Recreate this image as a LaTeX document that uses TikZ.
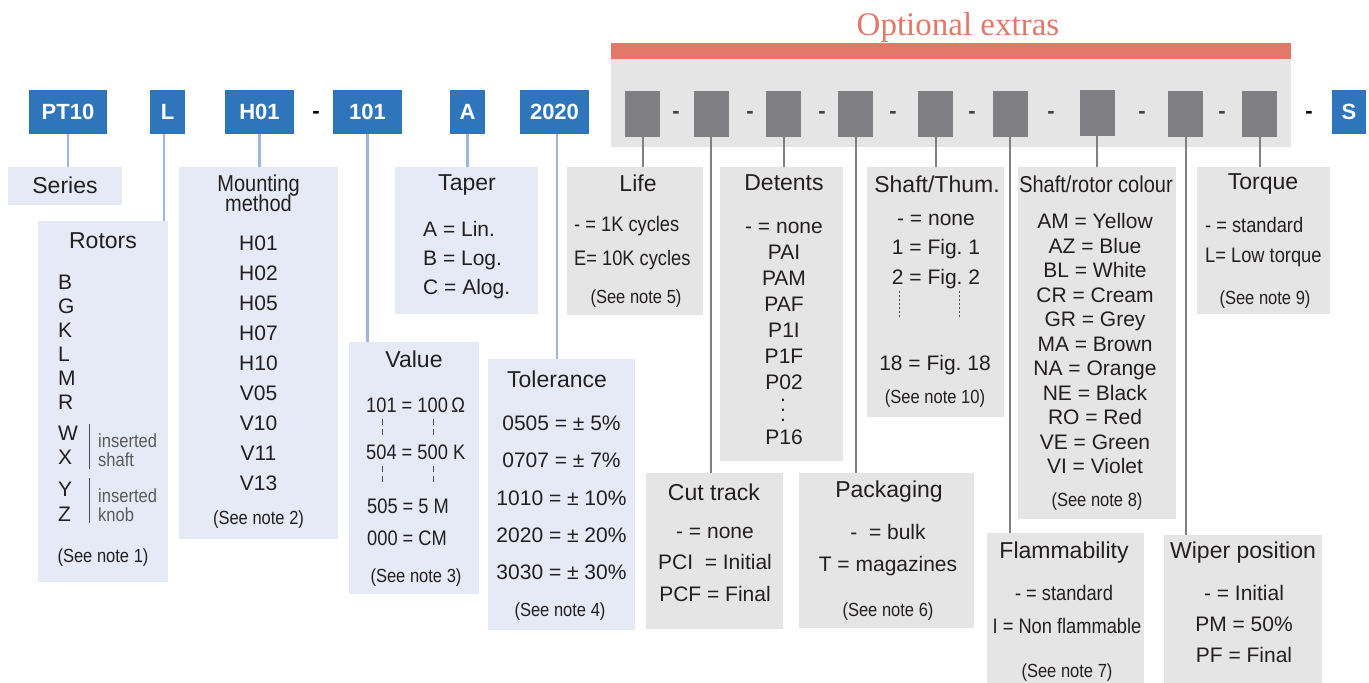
\documentclass[tikz,border=0pt]{standalone}
\usepackage{fontspec}
\setmainfont{Liberation Sans}
\newfontfamily\narrowfont[FakeStretch=0.87]{Liberation Sans}
\newfontfamily\serffont{Liberation Serif}
\usepackage{xcolor}
\usepackage{tikz}
\usetikzlibrary{calc}
\usetikzlibrary{positioning}
\frenchspacing

\definecolor{codeblue}{HTML}{2E75BC}
\definecolor{descblue}{HTML}{E6EAF6}
\definecolor{descgrey}{HTML}{E5E5E5}
\definecolor{optgrey}{HTML}{808084}
\definecolor{bandgrey}{HTML}{E5E5E5}
\definecolor{salmon}{HTML}{E37868}
\definecolor{wireblue}{HTML}{9DB5DF}
\definecolor{wiregrey}{HTML}{808080}
\definecolor{ink}{HTML}{231F20}

\newcommand{\codefont}{\bfseries\fontsize{22}{22}\selectfont}
\newcommand{\ttlfont}{\fontsize{23}{23}\selectfont}
\newcommand{\rowfont}{\fontsize{21}{24}\selectfont}
\newcommand{\rowcfont}{\narrowfont\fontsize{21}{24}\selectfont}
\newcommand{\notefont}{\narrowfont\fontsize{19}{19}\selectfont}

\tikzstyle{codebox} = [fill=codeblue, text=white, inner sep=0, minimum height=44pt, font=\codefont]
\tikzstyle{optbox} = [fill=optgrey, inner sep=0, minimum width=35pt, minimum height=46pt]
\tikzstyle{descb} = [fill=descblue, inner sep=0]
\tikzstyle{descg} = [fill=descgrey, inner sep=0]
\tikzstyle{hyph} = [inner sep=0, font=\codefont]
\tikzstyle{titletext} = [inner sep=0, text=ink, font=\ttlfont]
\tikzstyle{rowtext} = [inner sep=0, text=ink, font=\rowfont]
\tikzstyle{rowctext} = [inner sep=0, text=ink, font=\rowcfont]
\tikzstyle{notetext} = [inner sep=0, text=ink, font=\notefont]
\tikzstyle{sidetext} = [inner sep=0, text=black!65, font=\narrowfont\fontsize{19}{19}\selectfont]
\tikzstyle{wireb} = [-, line width=2.5pt, draw=wireblue]
\tikzstyle{wireg} = [-, line width=2pt, draw=wiregrey]
\tikzstyle{tick} = [-, line width=0.8pt, draw=black!70]

\begin{document}
\begin{tikzpicture}[x=1pt, y=-1pt]
\useasboundingbox (0,0) rectangle (1369,683);
% optional extras band
\node [fill=salmon, inner sep=0, minimum width=680pt, minimum height=16pt] (Bar) at (951, 51) {};
\node [fill=bandgrey, inner sep=0, minimum width=680pt, minimum height=88pt] (Ext) at (951, 103) {};
\node [inner sep=0, anchor=base, text=salmon, font=\serffont\fontsize{33}{33}\selectfont] (Ext-t) at (958, 35) {Optional extras};

% code row
\node [codebox, minimum width=78pt] (PT) at (68, 112) {PT10};
\node [codebox, minimum width=35pt] (L) at (167.5, 112) {L};
\node [codebox, minimum width=69pt] (H) at (259.5, 112) {H01};
\node [hyph] (d0) at (316, 114.5) {-};
\node [codebox, minimum width=69pt] (V) at (367.5, 112) {101};
\node [codebox, minimum width=35pt] (A) at (467.5, 112) {A};
\node [codebox, minimum width=69pt] (T) at (554.5, 112) {2020};
\node [optbox] (O1) at (642.5, 114) {};
\node [hyph, text=black!75] (d1) at (676, 114.5) {-};
\node [optbox] (O2) at (711, 114) {};
\node [hyph, text=black!75] (d2) at (750, 114.5) {-};
\node [optbox] (O3) at (783.5, 114) {};
\node [hyph, text=black!75] (d3) at (822, 114.5) {-};
\node [optbox] (O4) at (855.5, 114) {};
\node [hyph, text=black!75] (d4) at (893, 114.5) {-};
\node [optbox] (O5) at (935.5, 114) {};
\node [hyph, text=black!75] (d5) at (972, 114.5) {-};
\node [optbox] (O6) at (1010, 114) {};
\node [hyph, text=black!75] (d6) at (1051, 114.5) {-};
\node [optbox] (O7) at (1097, 112.5) {};
\node [hyph, text=black!75] (d7) at (1142, 114.5) {-};
\node [optbox] (O8) at (1185.5, 114) {};
\node [hyph, text=black!75] (d8) at (1222, 114.5) {-};
\node [optbox] (O9) at (1259.5, 114) {};
\node [hyph] (d9) at (1309, 114.5) {-};
\node [codebox, minimum width=34pt] (S) at (1349, 112) {S};

% description boxes
\node [descb, minimum width=114pt, minimum height=38pt] (Ser) at (65, 186) {};
\node [descb, minimum width=130pt, minimum height=361pt] (Rot) at (103, 401.5) {};
\node [descb, minimum width=159pt, minimum height=372pt] (Mou) at (258.5, 353) {};
\node [descb, minimum width=143pt, minimum height=147pt] (Tap) at (466.5, 240.5) {};
\node [descb, minimum width=130pt, minimum height=252pt] (Val) at (414, 468) {};
\node [descb, minimum width=147pt, minimum height=271pt] (Tol) at (561.5, 494.5) {};
\node [descg, minimum width=136pt, minimum height=148pt] (Lif) at (635, 241) {};
\node [descg, minimum width=123pt, minimum height=294pt] (Det) at (781.5, 314) {};
\node [descg, minimum width=137pt, minimum height=156pt] (Cut) at (714.5, 551) {};
\node [descg, minimum width=175pt, minimum height=155pt] (Pac) at (886.5, 550.5) {};
\node [descg, minimum width=137pt, minimum height=250pt] (Sha) at (935.5, 292) {};
\node [descg, minimum width=158pt, minimum height=352pt] (Col) at (1097, 343) {};
\node [descg, minimum width=133pt, minimum height=147pt] (Tor) at (1263.5, 240.5) {};
\node [descg, minimum width=157pt, minimum height=150pt] (Fla) at (1065.5, 608) {};
\node [descg, minimum width=158pt, minimum height=148pt] (Wip) at (1243, 609) {};

% connectors
\draw [wireb] (PT.south) to (PT.south |- Ser.north);
\draw [wireb] ([xshift=-3.5pt]L.south) to ([xshift=-3.5pt]L.south |- Rot.north);
\draw [wireb] (H.south) to (H.south |- Mou.north);
\draw [wireb] (V.south) to (V.south |- Val.north);
\draw [wireb] (A.south) to (A.south |- Tap.north);
\draw [wireb] ([xshift=2.5pt]T.south) to ([xshift=2.5pt]T.south |- Tol.north);
\draw [wireg] (O1.south) to (O1.south |- Lif.north);
\draw [wireg] (O2.south) to (O2.south |- Cut.north);
\draw [wireg] (O3.south) to (O3.south |- Det.north);
\draw [wireg] (O4.south) to (O4.south |- Pac.north);
\draw [wireg] (O5.south) to (O5.south |- Sha.north);
\draw [wireg] (O6.south) to (O6.south |- Fla.north);
\draw [wireg] (O7.south) to (O7.south |- Col.north);
\draw [wireg] (O8.south) to (O8.south |- Wip.north);
\draw [wireg] (O9.south) to (O9.south |- Tor.north);

% series, rotors, mounting (multi-line nodes sit on their last baseline)
\node [titletext] (Ser-t) at (65, 185) {Series};
\node [titletext] (Rot-t) at (103, 241) {Rotors};
\node [rowtext, anchor=base west, align=left] (Rot-a) at (58, 409.5) {B\\G\\K\\L\\M\\R};
\node [rowtext, anchor=base west, align=left] (Rot-b) at (58, 464.5) {W\\X};
\node [rowtext, anchor=base west, align=left, font=\fontsize{21}{25}\selectfont] (Rot-c) at (58, 521.5) {Y\\Z};
\node [sidetext, anchor=base west, align=left] (Rot-d) at (98, 466) {inserted\\shaft};
\node [sidetext, anchor=base west, align=left] (Rot-e) at (98, 521) {inserted\\knob};
\draw [tick] (89, 424) to (89, 469);
\draw [tick] (89, 478) to (89, 523);
\node [notetext] (Rot-n) at (103, 558) {(See note 1)};
\node [titletext, anchor=base, align=center, font={\narrowfont\fontsize{23}{20}\selectfont\lineskiplimit=-20pt}] (Mou-t) at (258.5, 211) {Mounting\\method};
\node [rowtext, anchor=base, align=center, font=\fontsize{21}{30}\selectfont] (Mou-l) at (258.5, 490.5) {H01\\H02\\H05\\H07\\H10\\V05\\V10\\V11\\V13};
\node [notetext] (Mou-n) at (258.5, 520) {(See note 2)};

% taper, value, tolerance
\node [titletext] (Tap-t) at (467, 185) {Taper};
\node [rowtext, anchor=base west, align=left, font=\fontsize{21}{29}\selectfont] (Tap-l) at (423, 294.5) {A = Lin.\\B = Log.\\C = Alog.};
\node [titletext] (Val-t) at (414, 359) {Value};
\node [rowctext, anchor=west] (Val-a) at (366, 405) {101 = 100\,Ω};
\node [rowctext, anchor=west] (Val-b) at (366, 452) {504 = 500 K};
\node [rowctext, anchor=west] (Val-c) at (367, 506) {505 = 5 M};
\node [rowctext, anchor=west] (Val-d) at (367, 538) {000 = CM};
\draw [tick, dash pattern=on 6pt off 4pt] (382, 419) to (382, 435);
\draw [tick, dash pattern=on 6pt off 4pt] (433, 419) to (433, 435);
\draw [tick, dash pattern=on 6pt off 4pt] (382, 466) to (382, 482);
\draw [tick, dash pattern=on 6pt off 4pt] (433, 466) to (433, 482);
\node [notetext] (Val-n) at (416, 578) {(See note 3)};
\node [titletext] (Tol-t) at (557, 379) {Tolerance};
\node [rowtext, anchor=base, align=center, font=\fontsize{21}{37.25}\selectfont] (Tol-l) at (561.5, 579.5) {0505 = ± 5\%\\0707 = ± 7\%\\1010 = ± 10\%\\2020 = ± 20\%\\3030 = ± 30\%};
\node [notetext] (Tol-n) at (560, 612) {(See note 4)};

% optional extras
\node [titletext] (Lif-t) at (638, 183) {Life};
\node [rowctext, anchor=west] (Lif-a) at (574, 226) {- = 1K cycles};
\node [rowctext, anchor=west] (Lif-b) at (574, 260) {E= 10K cycles};
\node [notetext] (Lif-n) at (636, 299) {(See note 5)};
\node [titletext] (Det-t) at (784, 183) {Detents};
\node [rowtext, anchor=base, align=center, font=\fontsize{21}{26}\selectfont] (Det-l) at (784, 389.5) {- = none\\PAI\\PAM\\PAF\\P1I\\P1F\\P02};
\node [rowtext, anchor=base, align=center, font={\fontsize{21}{10}\selectfont\lineskiplimit=-20pt}] (Det-d) at (783, 421) {.\\.\\.};
\node [rowtext] (Det-e) at (784, 437) {P16};
\node [titletext] (Cut-t) at (714, 492) {Cut track};
\node [rowtext, anchor=base, align=center, font=\fontsize{21}{31.5}\selectfont] (Cut-l) at (715, 601) {- = none\\PCI\ \ = Initial\\PCF = Final};
\node [titletext] (Pac-t) at (889, 492) {Packaging};
\node [rowtext, anchor=base, align=center, font=\fontsize{21}{32}\selectfont] (Pac-l) at (888, 571) {-\ \ = bulk\\T = magazines};
\node [notetext] (Pac-n) at (888, 612) {(See note 6)};
\node [titletext] (Sha-t) at (937, 184) {Shaft/Thum.};
\node [rowtext, anchor=base, align=center, font=\fontsize{21}{29.5}\selectfont] (Sha-l) at (936, 284) {- = none\\1 = Fig. 1\\2 = Fig. 2};
\draw [tick, dash pattern=on 2pt off 2pt] (899, 291) to (899, 319);
\draw [tick, dash pattern=on 2pt off 2pt] (959, 291) to (959, 319);
\node [rowtext] (Sha-e) at (935, 365) {18 = Fig. 18};
\node [notetext] (Sha-n) at (935, 399) {(See note 10)};
\node [titletext, font=\narrowfont\fontsize{23}{23}\selectfont] (Col-t) at (1096, 184) {Shaft/rotor colour};
\node [rowtext, anchor=base, align=center, font=\fontsize{21}{24.5}\selectfont] (Col-l) at (1095, 473.5) {AM = Yellow\\AZ = Blue\\BL = White\\CR = Cream\\GR = Grey\\MA = Brown\\NA = Orange\\NE = Black\\RO = Red\\VE = Green\\VI = Violet};
\node [notetext] (Col-n) at (1097, 502) {(See note 8)};
\node [titletext] (Tor-t) at (1263, 184) {Torque};
\node [rowctext, anchor=west] (Tor-a) at (1205, 225) {- = standard};
\node [rowctext, anchor=west] (Tor-b) at (1205, 257) {L= Low torque};
\node [notetext] (Tor-n) at (1265, 300) {(See note 9)};
\node [titletext] (Fla-t) at (1064, 553) {Flammability};
\node [rowctext] (Fla-a) at (1064, 593) {- = standard};
\node [rowctext] (Fla-b) at (1067, 626) {I = Non flammable};
\node [notetext] (Fla-n) at (1067, 673) {(See note 7)};
\node [titletext] (Wip-t) at (1243, 553) {Wiper position};
\node [rowtext, anchor=base, align=center, font=\fontsize{21}{31}\selectfont] (Wip-l) at (1244, 662) {- = Initial\\PM = 50\%\\PF = Final};
\end{tikzpicture}
\end{document}
